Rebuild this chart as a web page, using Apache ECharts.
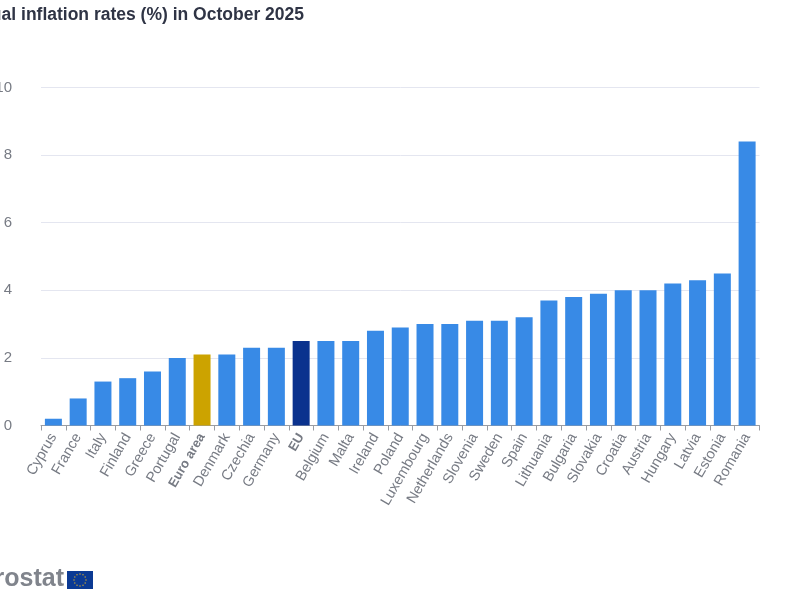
<!DOCTYPE html>
<html><head><meta charset="utf-8">
<style>html,body{margin:0;padding:0;background:#fff}#c{width:800px;height:600px}</style>
<script src="https://cdn.jsdelivr.net/npm/echarts@6/dist/echarts.min.js"></script>
</head><body><div id="c"></div>
<script>
const categories = ["Cyprus","France","Italy","Finland","Greece","Portugal","Euro area","Denmark","Czechia","Germany","EU","Belgium","Malta","Ireland","Poland","Luxembourg","Netherlands","Slovenia","Sweden","Spain","Lithuania","Bulgaria","Slovakia","Croatia","Austria","Hungary","Latvia","Estonia","Romania"];
const values = [0.2,0.8,1.3,1.4,1.6,2.0,2.1,2.1,2.3,2.3,2.5,2.5,2.5,2.8,2.9,3.0,3.0,3.1,3.1,3.2,3.7,3.8,3.9,4.0,4.0,4.2,4.3,4.5,8.4];
const highlights = {"Euro area":"#CCA300","EU":"#0A328E"};
const titleText = "Annual inflation rates (%) in October 2025";
const yTicks = {min:0,max:10,interval:2};

const chart = echarts.init(document.getElementById('c'),null,{renderer:'canvas'});
const font = '"Liberation Sans",Arial,sans-serif';
const cx=80, cy=580, r=6;
const stars=[];
for(let i=0;i<12;i++){const a=i*Math.PI/6;stars.push({type:'circle',shape:{cx:cx+r*Math.cos(a),cy:cy+r*Math.sin(a),r:0.8},style:{fill:'#B79A3A'}});}
chart.setOption({
  animation:false,
  title:{text:titleText,right:491,top:1,textStyle:{fontFamily:font,fontSize:17.5,fontWeight:'bold',color:'#2F3445'}},
  grid:{left:41,right:40.5,top:87.5,bottom:174.5,containLabel:false,outerBoundsMode:'none'},
  xAxis:{type:'category',data:categories,
    axisLine:{lineStyle:{color:'#9A9DA3',width:1}},
    axisTick:{show:true,length:5,alignWithLabel:false,lineStyle:{color:'#9A9DA3'}},
    axisLabel:{interval:0,rotate:60,margin:9,fontFamily:font,fontSize:14.5,color:'#777B84',
      formatter:v=>highlights[v]?'{b|'+v+'}':v,
      rich:{b:{fontWeight:'bold',fontFamily:font,fontSize:13,color:'#777B84'}}}},
  yAxis:{type:'value',min:yTicks.min,max:yTicks.max,interval:yTicks.interval,
    axisLine:{show:false},axisTick:{show:false},
    splitLine:{lineStyle:{color:'#E4E6F0',width:1}},
    axisLabel:{margin:29,fontFamily:font,fontSize:15,color:'#777B84'}},
  series:[{type:'bar',barWidth:17,
    data:values.map((v,i)=>({value:v,itemStyle:{color:highlights[categories[i]]||'#388AE6'}}))}],
  graphic:[
    {type:'text',style:{x:64,y:579,text:'eurostat',align:'right',verticalAlign:'middle',font:'bold 25px '+font,fill:'#80848C'}},
    {type:'rect',shape:{x:67,y:571,width:26,height:18},style:{fill:'#0B3A94'}},
    ...stars
  ]
});
</script></body></html>
